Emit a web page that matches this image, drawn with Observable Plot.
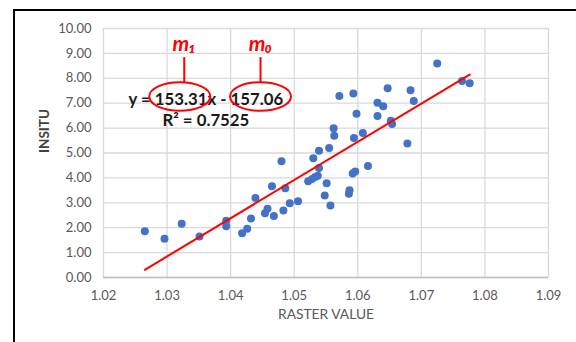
<!DOCTYPE html>
<html>
<head>
<meta charset="utf-8">
<script src="https://cdn.jsdelivr.net/npm/d3@7"></script>
<script src="https://cdn.jsdelivr.net/npm/@observablehq/plot@0.6"></script>
<style>
  html, body { margin: 0; padding: 0; background: #fff; overflow: hidden; }
  #wrap { position: relative; width: 576px; height: 342px; }
  #frame { position: absolute; left: 13px; top: 9px; width: 700px; height: 500px;
           border-left: 2px solid #000; border-top: 2px solid #000; pointer-events: none; }
  svg { font-family: Lato, "Open Sans", sans-serif; }
</style>
</head>
<body>
<div id="wrap"><div id="frame"></div></div>
<script>
// ---- data ----
const rasterValue = [1.0265,1.0296,1.0323,1.0351,1.0393,1.0393,1.0418,1.0426,1.0432,1.0439,1.0454,1.0458,1.0465,1.0468,1.0480,1.0483,1.0486,1.0493,1.0506,1.0522,1.0528,1.0533,1.0537,1.0539,1.0551,1.0548,1.0557,1.0586,1.0587,1.0592,1.0596,1.0616,1.0530,1.0539,1.0555,1.0562,1.0563,1.0594,1.0608,1.0678,1.0652,1.0654,1.0631,1.0598,1.0631,1.0640,1.0688,1.0571,1.0593,1.0647,1.0683,1.0725,1.0764,1.0776];
const insitu = [1.86,1.56,2.16,1.65,2.28,2.06,1.78,1.96,2.37,3.19,2.58,2.76,3.66,2.47,4.67,2.69,3.58,2.98,3.06,3.87,3.96,4.04,4.09,4.40,3.79,3.29,2.89,3.36,3.50,4.18,4.26,4.48,4.79,5.09,5.20,5.99,5.69,5.60,5.80,5.38,6.30,6.16,6.49,6.58,7.02,6.88,7.09,7.29,7.39,7.60,7.52,8.59,7.89,7.80];

const trendX = [1.0265, 1.0776];
const trendY = [0.31, 8.15];

const xTicks = [1.02,1.03,1.04,1.05,1.06,1.07,1.08,1.09];
const xTickLabels = ["1.02","1.03","1.04","1.05","1.06","1.07","1.08","1.09"];
const yTicks = [0,1,2,3,4,5,6,7,8,9,10];
const yTickLabels = ["0.00","1.00","2.00","3.00","4.00","5.00","6.00","7.00","8.00","9.00","10.00"];

const xTitle = "RASTER VALUE";
const yTitle = "INSITU";

// equation label
const eqLines = ["y = 153.31x - 157.06", "R² = 0.7525"];
const eqX = [1.0361];
const eqY = [6.77];

// coefficient call-outs
const calloutLabels = ["m₁", "m₀"];
const calloutX = [1.0327, 1.0447];
const calloutTextY = [9.08, 9.08];
const calloutLineTop = [8.85, 8.85];
const calloutLineBottom = [7.85, 7.85];
const ellipseX = [1.0320, 1.0447];
const ellipseY = [7.27, 7.27];

// ---- build ----
const points = rasterValue.map((x, i) => ({x, y: insitu[i]}));
const trend = trendX.map((x, i) => ({x, y: trendY[i]}));
const callouts = calloutLabels.map((t, i) => ({t, x: calloutX[i], ty: calloutTextY[i], y1: calloutLineTop[i], y2: calloutLineBottom[i], ex: ellipseX[i], ey: ellipseY[i]}));

const ellipseSymbol = {
  draw(ctx) {
    const rx = 30.5, ry = 14.3, k = 0.5523;
    ctx.moveTo(rx, 0);
    ctx.bezierCurveTo(rx, ry * k, rx * k, ry, 0, ry);
    ctx.bezierCurveTo(-rx * k, ry, -rx, ry * k, -rx, 0);
    ctx.bezierCurveTo(-rx, -ry * k, -rx * k, -ry, 0, -ry);
    ctx.bezierCurveTo(rx * k, -ry, rx, -ry * k, rx, 0);
    ctx.closePath();
  }
};

const chart = Plot.plot({
  width: 576,
  height: 342,
  marginLeft: 103,
  marginRight: 28,
  marginTop: 28,
  marginBottom: 65,
  style: {fontFamily: "Lato, 'Open Sans', sans-serif", background: "transparent"},
  x: {domain: [1.02, 1.09]},
  y: {domain: [0, 10]},
  marks: [
    Plot.gridX(xTicks, {stroke: "#d9d9d9", strokeOpacity: 1, strokeWidth: 1.3}),
    Plot.gridY(yTicks, {stroke: "#d9d9d9", strokeOpacity: 1, strokeWidth: 1.3}),
    Plot.ruleY([0], {stroke: "#bfbfbf", strokeWidth: 1.3}),
    Plot.axisX(xTicks, {tickSize: 0, tickPadding: 13, fontSize: 13, fill: "#595959",
      tickFormat: d => xTickLabels[xTicks.indexOf(d)], label: null}),
    Plot.axisY(yTicks, {tickSize: 0, tickPadding: 12, fontSize: 13, fill: "#595959",
      tickFormat: d => yTickLabels[yTicks.indexOf(d)], label: null}),
    Plot.text([xTitle], {frameAnchor: "bottom", dy: 41, fontSize: 13.8, fill: "#595959"}),
    Plot.text([yTitle], {frameAnchor: "left", dx: -59, rotate: -90, fontSize: 13.5, fontWeight: "bold", fill: "#404040"}),
    Plot.dot(points, {x: "x", y: "y", r: 4, fill: "#4472C4", stroke: "none"}),
    Plot.line(trend, {x: "x", y: "y", stroke: "#ff0000", strokeWidth: 2}),
    Plot.text([eqLines.join("\n")], {x: () => eqX[0], y: () => eqY[0], fontSize: 16.8, fontWeight: "bold",
      fill: "#1a1a1a", lineHeight: 1.23, textAnchor: "middle"}),
    Plot.dot(callouts, {x: "ex", y: "ey", symbol: ellipseSymbol, r: 10, stroke: "#ff0000", strokeWidth: 2, fill: "none"}),
    Plot.link(callouts, {x1: "x", x2: "x", y1: "y1", y2: "y2", stroke: "#ff0000", strokeWidth: 2}),
    Plot.text(callouts, {x: "x", y: "ty", text: "t", fill: "#ff0000", fontSize: 21, fontStyle: "italic",
      fontWeight: "bold", lineAnchor: "bottom"})
  ]
});

document.getElementById("wrap").prepend(chart);
</script>
</body>
</html>
